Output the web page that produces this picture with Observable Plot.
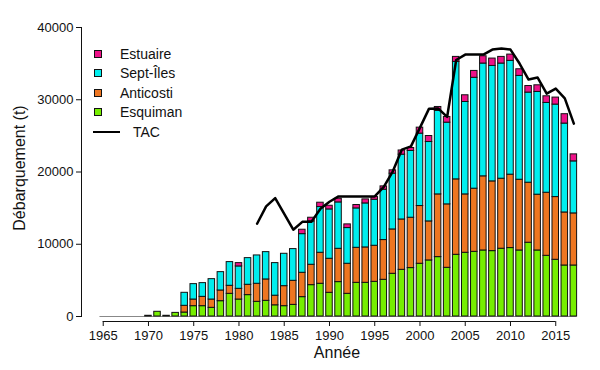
<!DOCTYPE html>
<html>
<head>
<meta charset="utf-8">
<script src="https://cdn.jsdelivr.net/npm/d3@7"></script>
<script src="https://cdn.jsdelivr.net/npm/@observablehq/plot@0.6"></script>
<style>
  body { margin: 0; background: #fff; }
  #wrap { position: relative; width: 600px; height: 370px; font-family: "Liberation Sans", Arial, sans-serif; color: #111; }
  .legend { position: absolute; left: 93px; top: 44px; font-size: 14px; }
  .row { display: flex; align-items: center; height: 19.5px; }
  .sw { width: 6px; height: 6px; border: 1px solid #111; margin-left: 1px; margin-right: 18px; }
  .ln { width: 27px; height: 0; border-top: 2.5px solid #000; margin-right: 13px; }
  .title { position: absolute; font-size: 16px; white-space: nowrap; }
</style>
</head>
<body>
<div id="wrap"></div>
<script>
const years = d3.range(1965, 2018);
const regions = ["Esquiman", "Anticosti", "Sept-Îles", "Estuaire"];
const colors = ["#76EE00", "#EE7621", "#00EEEE", "#EE1289"];

// 1965 ... 2017
const esquiman = [0,0,0,0,0, 100,650,100,500,550, 1430,1430,1200,2120,3140, 2350,2960,2030,2170,1550,
  1430,1610,2680,4340,4530, 3280,4760,3140,4660,4660, 4800,5080,5910,6460,6700,
  7300,7760,8220,6740,8540, 8820,8950,9140,9050,9380, 9470,9140,10210,9140,8400, 7850,7060,7060];
const anticosti = [0,0,0,0,0, 0,0,0,0,930, 920,1290,1150,1480,1110, 1480,1430,2500,2960,1330,
  2770,3330,3370,2820,4290, 4710,4610,4160,4850,4900, 4990,5500,6140,6970,6970,
  7990,5400,8680,8780,10440, 8080,8740,10260,9650,9690, 10160,9790,8310,7720,8730, 8680,7340,7210];
const septIles = [0,0,0,0,0, 0,0,0,0,1800, 2130,1900,2820,2540,3280, 3100,3690,3920,3780,4510,
  4480,4390,5350,6000,6330, 6830,6420,4940,5450,6090, 6370,6970,7720,8970,9240,
  10020,10990,11550,11310,16260, 12790,15350,15610,15980,15940, 15750,14370,12470,14220,12430, 12800,12300,7200];
const estuaire = [0,0,0,0,0, 0,0,0,0,0, 0,0,0,0,0, 460,0,0,0,0,
  0,0,610,510,600, 510,510,510,470,560, 370,460,460,580,410,
  830,830,550,790,690, 930,950,1010,1020,920, 870,920,910,920,920, 970,1300,970];

const tacYears = d3.range(1982, 2018);
const tac = [12840,15240,16390,14200,12010,13100,13100,14920,15880,16620,
  16620,16620,16620,16620,17950,20100,23100,23550,26140,28770,
  28800,27620,35500,36250,36250,36250,36940,37080,36940,35010,
  32790,33070,30850,31540,30200,26700];

const xTicks = d3.range(1965, 2016, 5);
const yTicks = [0, 10000, 20000, 30000, 40000];

const series = [esquiman, anticosti, septIles, estuaire];
const rows = years.flatMap((yr, i) => regions.map((r, j) => ({year: yr, region: r, value: series[j][i]})))
  .filter(d => d.value > 0);
const tacRows = tacYears.map((yr, i) => ({year: yr, tac: tac[i]}));

const chart = Plot.plot({
  width: 600, height: 370,
  marginLeft: 81, marginRight: 17.6, marginTop: 27, marginBottom: 54,
  x: {domain: [1962.6, 2018]},
  y: {domain: [0, 40000]},
  color: {domain: regions, range: colors},
  style: {fontFamily: "Liberation Sans, Arial, sans-serif", fontSize: "13px", color: "#111", background: "transparent"},
  marks: [
    Plot.frame({anchor: "left", stroke: "#111"}),
    Plot.axisY({ticks: yTicks, tickSize: 5, tickPadding: 3, tickFormat: d => String(d), label: null, stroke: "#111"}),
    Plot.axisX({ticks: xTicks, tickSize: 5, tickPadding: 4, dy: 5, tickFormat: d => String(d), label: null, stroke: "#111"}),
    Plot.ruleY([0], {x1: xTicks[0], x2: xTicks[xTicks.length - 1], dy: 5, stroke: "#111"}),
    Plot.ruleY([0], {x1: years[0] - 0.36, x2: years[years.length - 1] + 0.36, stroke: "#888"}),
    Plot.rectY(rows, {x1: d => d.year - 0.36, x2: d => d.year + 0.36, y: "value", fill: "region", stroke: "#111", strokeWidth: 1}),
    Plot.lineY(tacRows, {x: "year", y: "tac", stroke: "#000", strokeWidth: 2.5})
  ]
});
const wrap = document.getElementById("wrap");
wrap.appendChild(chart);

// axis titles
const xt = document.createElement("div");
xt.className = "title"; xt.textContent = "Année";
xt.style.left = "337px"; xt.style.top = "344px"; xt.style.transform = "translateX(-50%)";
wrap.appendChild(xt);
const yt = document.createElement("div");
yt.className = "title"; yt.textContent = "Débarquement (t)";
yt.style.left = "20px"; yt.style.top = "168px"; yt.style.transform = "translate(-50%,-50%) rotate(-90deg)";
wrap.appendChild(yt);

// legend
const leg = document.createElement("div");
leg.className = "legend";
const items = regions.map((r, i) => ({label: r, color: colors[i]})).reverse();
for (const it of items) {
  const row = document.createElement("div"); row.className = "row";
  const sw = document.createElement("div"); sw.className = "sw"; sw.style.background = it.color;
  const tx = document.createElement("span"); tx.textContent = it.label;
  row.appendChild(sw); row.appendChild(tx); leg.appendChild(row);
}
const row = document.createElement("div"); row.className = "row";
const ln = document.createElement("div"); ln.className = "ln";
const tx = document.createElement("span"); tx.textContent = "TAC";
row.appendChild(ln); row.appendChild(tx); leg.appendChild(row);
wrap.appendChild(leg);
</script>
</body>
</html>
